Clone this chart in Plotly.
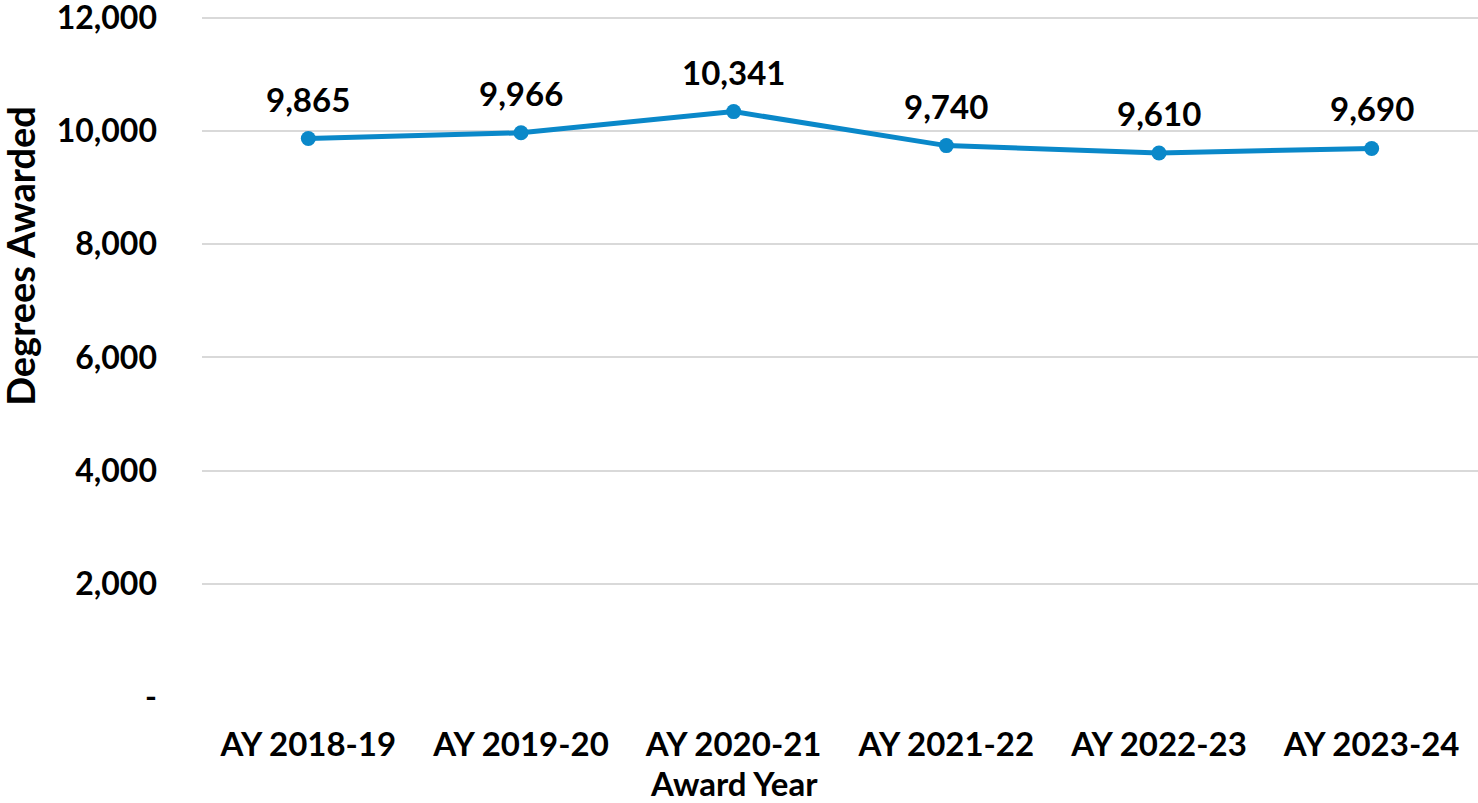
import plotly.graph_objects as go

years = ["AY 2018-19", "AY 2019-20", "AY 2020-21", "AY 2021-22", "AY 2022-23", "AY 2023-24"]
degrees = [9865, 9966, 10341, 9740, 9610, 9690]
y_tickvals = [0, 2000, 4000, 6000, 8000, 10000, 12000]
y_ticktext = ["-", "2,000", "4,000", "6,000", "8,000", "10,000", "12,000"]

FONT = "Lato"
BLUE = "#0A88C9"

fig = go.Figure()
fig.add_trace(go.Scatter(
    x=years, y=degrees, mode="lines+markers",
    line=dict(color=BLUE, width=5),
    marker=dict(color=BLUE, size=15),
    hoverinfo="skip", cliponaxis=False,
))

for x, y in zip(years, degrees):
    fig.add_annotation(x=x, y=y, text=f"<b>{y:,}</b>", showarrow=False,
                       yshift=40, font=dict(family=FONT, size=33, color="black"))

# axis titles placed like the original
fig.add_annotation(xref="paper", yref="paper", x=0, y=0.644, xshift=-182,
                   xanchor="center", yanchor="middle", textangle=-90,
                   text="<b>Degrees Awarded</b>", showarrow=False,
                   font=dict(family=FONT, size=38, color="black"))
fig.add_annotation(xref="paper", yref="paper", x=0.417, y=0, yshift=-86,
                   xanchor="center", yanchor="middle",
                   text="<b>Award Year</b>", showarrow=False,
                   font=dict(family=FONT, size=33, color="black"))

fig.update_layout(
    width=1478, height=803,
    margin=dict(l=202, r=0, t=12.3, b=105.5, autoexpand=False),
    plot_bgcolor="white", paper_bgcolor="white",
    showlegend=False,
    font=dict(family=FONT, size=32, color="black", weight="bold"),
    xaxis=dict(
        type="category", range=[-0.5, 5.5],
        showgrid=False, zeroline=False, showline=False,
        ticks="", ticklabelstandoff=25, automargin=False,
        tickfont=dict(family=FONT, size=33, color="black", weight="bold"),
    ),
    yaxis=dict(
        range=[0, 12100], tickvals=y_tickvals, ticktext=y_ticktext,
        showgrid=True, gridcolor="#D9D9D9", gridwidth=2,
        zeroline=False, showline=False, ticks="",
        ticklabelstandoff=44, automargin=False, ticklabeloverflow="allow",
        tickfont=dict(family=FONT, size=32, color="black", weight="bold"),
    ),
)

fig.write_html("out.html", config={"displayModeBar": False},
               post_script="document.body.style.margin='0';")
